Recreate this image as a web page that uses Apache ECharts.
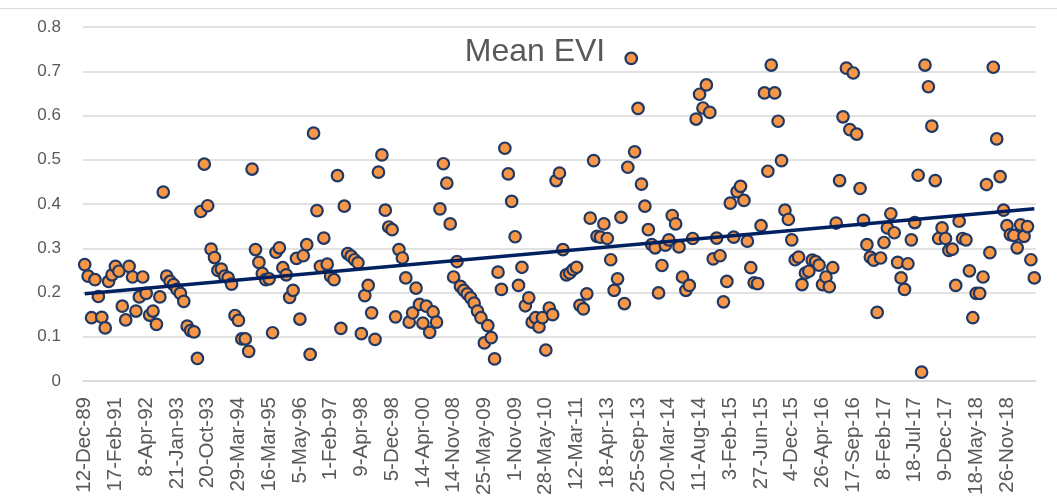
<!DOCTYPE html>
<html>
<head>
<meta charset="utf-8">
<script src="https://cdn.jsdelivr.net/npm/echarts@6/dist/echarts.min.js"></script>
<style>
  html, body { margin: 0; padding: 0; background: #fff; }
  #chart { width: 1057px; height: 504px; }
</style>
</head>
<body>
<div id="chart"></div>
<script>
// tick labels shown on the x axis (every 9th date)
var tickLabels = ['12-Dec-89', '17-Feb-91', '8-Apr-92', '21-Jan-93', '20-Oct-93', '29-Mar-94',
  '16-Mar-95', '5-May-96', '1-Feb-97', '9-Apr-98', '5-Dec-98', '14-Apr-00', '14-Nov-08',
  '25-May-09', '1-Nov-09', '28-May-10', '12-Mar-11', '18-Apr-13', '25-Sep-13', '20-Mar-14',
  '11-Aug-14', '3-Feb-15', '27-Jun-15', '4-Dec-15', '26-Apr-16', '17-Sep-16', '8-Feb-17',
  '18-Jul-17', '9-Dec-17', '18-May-18', '26-Nov-18'];
var labelStep = 9;

// mean EVI per scene
var evi = [
  0.263, 0.237, 0.143, 0.229, 0.191, 0.144, 0.120, 0.225, 0.240, 0.259,
  0.248, 0.169, 0.138, 0.259, 0.235, 0.158, 0.190, 0.235, 0.198, 0.149,
  0.158, 0.128, 0.190, 0.427, 0.237, 0.225, 0.218, 0.207, 0.198, 0.180,
  0.124, 0.114, 0.111, 0.051, 0.383, 0.490, 0.396, 0.298, 0.279, 0.250,
  0.253, 0.237, 0.233, 0.219, 0.148, 0.137, 0.095, 0.095, 0.067, 0.479,
  0.297, 0.268, 0.243, 0.229, 0.231, 0.109, 0.291, 0.301, 0.256, 0.240,
  0.189, 0.205, 0.277, 0.140, 0.283, 0.308, 0.060, 0.560, 0.385, 0.259,
  0.323, 0.264, 0.237, 0.229, 0.464, 0.119, 0.395, 0.288, 0.282, 0.274,
  0.267, 0.107, 0.193, 0.216, 0.154, 0.094, 0.472, 0.511, 0.386, 0.348,
  0.342, 0.145, 0.297, 0.278, 0.233, 0.133, 0.154, 0.210, 0.173, 0.131,
  0.169, 0.110, 0.156, 0.133, 0.389, 0.491, 0.447, 0.355, 0.235, 0.270,
  0.214, 0.205, 0.197, 0.188, 0.176, 0.158, 0.143, 0.086, 0.125, 0.098,
  0.050, 0.246, 0.207, 0.526, 0.468, 0.406, 0.326, 0.216, 0.257, 0.170,
  0.188, 0.133, 0.143, 0.122, 0.143, 0.070, 0.165, 0.150, 0.453, 0.470,
  0.297, 0.240, 0.244, 0.252, 0.257, 0.171, 0.163, 0.197, 0.368, 0.498,
  0.327, 0.325, 0.355, 0.322, 0.274, 0.205, 0.231, 0.370, 0.175, 0.483,
  0.729, 0.518, 0.616, 0.445, 0.395, 0.342, 0.308, 0.301, 0.199, 0.261,
  0.307, 0.319, 0.374, 0.355, 0.303, 0.235, 0.205, 0.216, 0.322, 0.592,
  0.648, 0.617, 0.669, 0.607, 0.276, 0.323, 0.283, 0.179, 0.225, 0.402,
  0.325, 0.428, 0.440, 0.408, 0.316, 0.256, 0.222, 0.220, 0.351, 0.651,
  0.474, 0.714, 0.651, 0.587, 0.498, 0.386, 0.365, 0.319, 0.274, 0.280,
  0.218, 0.244, 0.248, 0.273, 0.270, 0.262, 0.218, 0.235, 0.213, 0.256,
  0.357, 0.453, 0.597, 0.707, 0.568, 0.696, 0.558, 0.435, 0.363, 0.308,
  0.280, 0.273, 0.155, 0.278, 0.313, 0.346, 0.378, 0.335, 0.268, 0.233,
  0.207, 0.265, 0.319, 0.358, 0.465, 0.020, 0.714, 0.665, 0.576, 0.453,
  0.322, 0.346, 0.322, 0.295, 0.298, 0.216, 0.361, 0.322, 0.319, 0.249,
  0.143, 0.198, 0.198, 0.235, 0.444, 0.290, 0.709, 0.547, 0.462, 0.386,
  0.351, 0.331, 0.329, 0.301, 0.353, 0.327, 0.349, 0.274, 0.233
];

// linear trend line, end values
var trendStart = 0.197;
var trendEnd = 0.389;

var categories = evi.map(function (v, i) {
  return i % labelStep === 0 ? tickLabels[i / labelStep] : String(i);
});

var chart = echarts.init(document.getElementById('chart'));
var font = '"Liberation Sans", Arial, sans-serif';

chart.setOption({
  animation: false,
  backgroundColor: '#ffffff',
  title: {
    text: 'Mean EVI',
    left: 535,
    top: 36,
    padding: 0,
    textAlign: 'center',
    textStyle: { fontFamily: font, fontSize: 32, fontWeight: 'normal', color: '#595959' }
  },
  graphic: [{
    type: 'line',
    shape: { x1: 0, y1: 8.5, x2: 1057, y2: 8.5 },
    style: { stroke: '#d9d9d9', lineWidth: 1 },
    silent: true
  }],
  grid: { left: 83, right: 21, top: 27, bottom: 123 },
  xAxis: {
    type: 'category',
    data: categories,
    boundaryGap: true,
    axisLine: { lineStyle: { color: '#d9d9d9', width: 1.5 } },
    axisTick: { interval: 0, length: 7, lineStyle: { color: '#d9d9d9' } },
    axisLabel: {
      interval: labelStep - 1,
      rotate: 90,
      margin: 16,
      color: '#595959',
      fontFamily: font,
      fontSize: 20.5
    },
    splitLine: { show: false }
  },
  yAxis: {
    type: 'value',
    min: 0,
    max: 0.8,
    interval: 0.1,
    axisLine: { show: false },
    axisTick: { show: false },
    axisLabel: { color: '#595959', fontFamily: font, fontSize: 17, margin: 22 },
    splitLine: { lineStyle: { color: '#d9d9d9', width: 1.5 } }
  },
  series: [
    {
      name: 'Mean EVI',
      type: 'scatter',
      data: evi,
      symbol: 'circle',
      symbolSize: 11.5,
      itemStyle: { color: '#F79646', borderColor: '#1F3864', borderWidth: 2.2, opacity: 1 },
      z: 2
    },
    {
      name: 'Trend',
      type: 'line',
      data: [[0, trendStart], [evi.length - 1, trendEnd]],
      symbol: 'none',
      lineStyle: { color: '#002060', width: 3.5 },
      z: 3
    }
  ]
});
</script>
</body>
</html>
